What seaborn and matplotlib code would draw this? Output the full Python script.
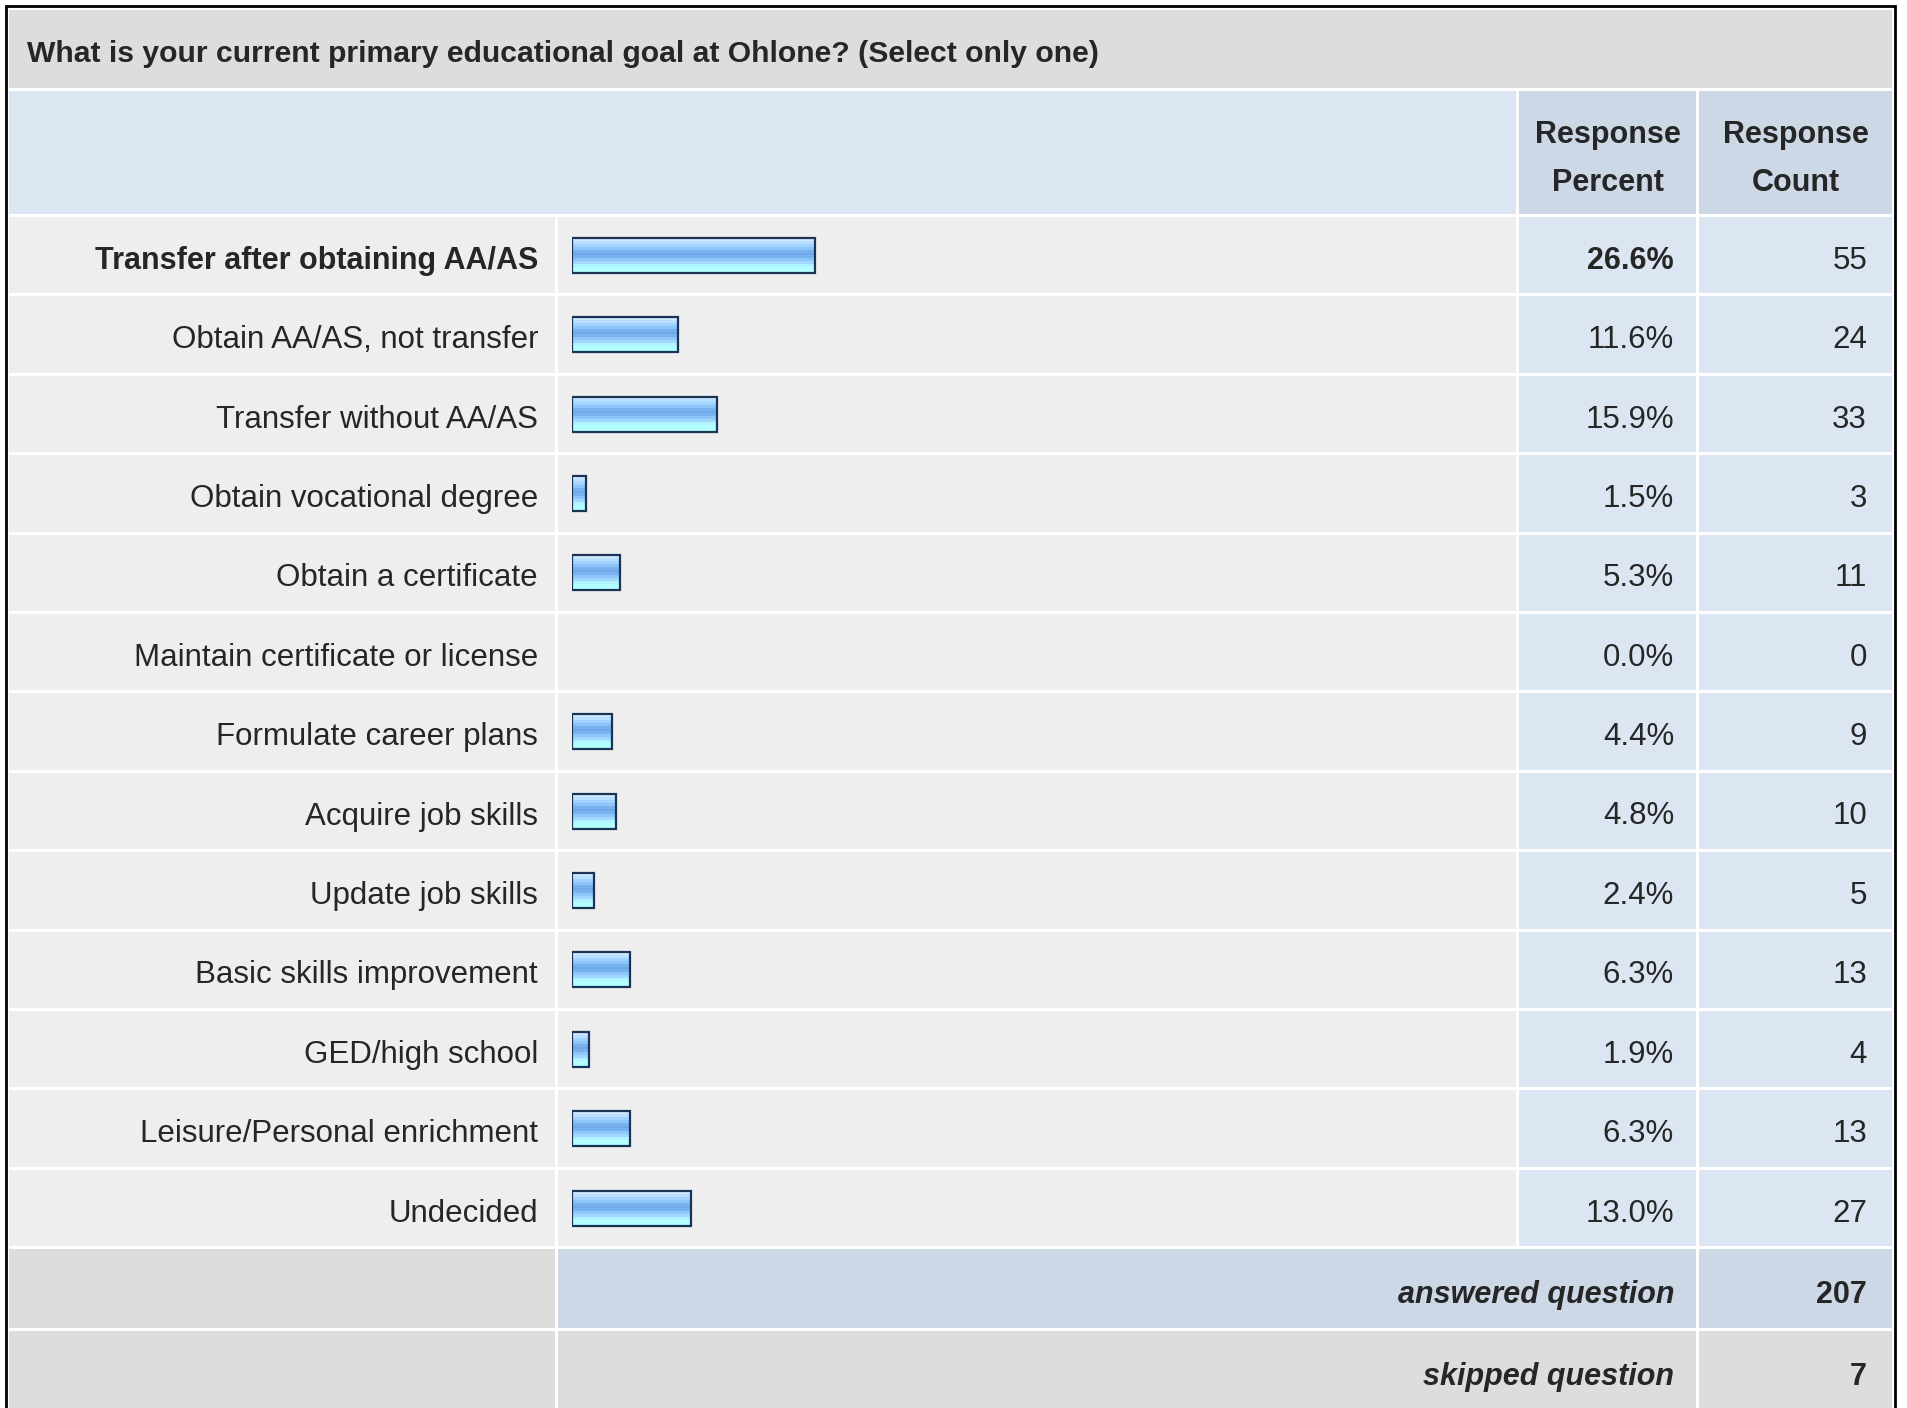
import numpy as np
import pandas as pd
import seaborn as sns
import matplotlib.pyplot as plt
from matplotlib.patches import Rectangle
from matplotlib.colors import to_rgb

# 설문 데이터
question = 'What is your current primary educational goal at Ohlone? (Select only one)'
answers = ['Transfer after obtaining AA/AS', 'Obtain AA/AS, not transfer', 'Transfer without AA/AS',
           'Obtain vocational degree', 'Obtain a certificate', 'Maintain certificate or license',
           'Formulate career plans', 'Acquire job skills', 'Update job skills',
           'Basic skills improvement', 'GED/high school', 'Leisure/Personal enrichment', 'Undecided']
percents = [26.6, 11.6, 15.9, 1.5, 5.3, 0.0, 4.4, 4.8, 2.4, 6.3, 1.9, 6.3, 13.0]
counts = [55, 24, 33, 3, 11, 0, 9, 10, 5, 13, 4, 13, 27]
answered = 207
skipped = 7

df = pd.DataFrame({'answer': answers, 'percent': percents, 'count': counts})

sns.set_theme(style='white')
plt.rcParams['font.family'] = ['Liberation Sans', 'DejaVu Sans']

W, H = 1907, 1408
fig = plt.figure(figsize=(W / 100, H / 100), dpi=100)

# 표 배경 (픽셀 좌표)
bg = fig.add_axes([0, 0, 1, 1])
bg.set_xlim(0, W)
bg.set_ylim(H, 0)
bg.axis('off')

GRAY = '#dddddd'
ROWC = '#eeeeee'
LBLUE = '#dce6f2'
DBLUE = '#ccd8e6'

def cell(x0, x1, y0, y1, c):
    bg.add_patch(Rectangle((x0, y0), x1 - x0, y1 - y0, facecolor=c, edgecolor='none'))

# 바깥 테두리
bg.add_patch(Rectangle((6, 6), 1889, 1410, facecolor='white', edgecolor='black', lw=2))

cols = [(9, 555), (558, 1516), (1519, 1696), (1699, 1892)]
cell(9, 1892, 10, 88, GRAY)
bg.text(27, 54, question, fontsize=21.7, fontweight='bold', ha='left', va='center')

cell(9, 1516, 91, 214, LBLUE)
cell(1519, 1696, 91, 214, DBLUE)
cell(1699, 1892, 91, 214, DBLUE)
for (x0, x1), title in zip(cols[2:], [('Response', 'Percent'), ('Response', 'Count')]):
    bg.text((x0 + x1) / 2, 135, title[0], fontsize=22, fontweight='bold', ha='center', va='center')
    bg.text((x0 + x1) / 2, 183, title[1], fontsize=22, fontweight='bold', ha='center', va='center')

top, pitch = 217, 79.4
best = int(np.argmax(percents))
for i, row in df.iterrows():
    y0 = top + pitch * i
    y1 = y0 + pitch - 3
    yc = (y0 + y1) / 2 + 5.5
    cell(*cols[0], y0, y1, ROWC)
    cell(*cols[1], y0, y1, ROWC)
    cell(*cols[2], y0, y1, LBLUE)
    cell(*cols[3], y0, y1, LBLUE)
    bold = i == best
    fs = 22 if bold else 22.5
    fw = 'bold' if bold else 'normal'
    bg.text(538, yc, row['answer'], fontsize=fs, fontweight=fw, ha='right', va='center')
    bg.text(1674, yc, f"{row['percent']:.1f}%", fontsize=fs, fontweight=fw, ha='right', va='center')
    bg.text(1867, yc, str(row['count']), fontsize=22.5, ha='right', va='center')

# answered / skipped
y0 = top + pitch * len(answers)
cell(9, 555, y0, y0 + 79, GRAY)
cell(558, 1696, y0, y0 + 79, DBLUE)
cell(1699, 1892, y0, y0 + 79, DBLUE)
bg.text(1674, y0 + 45.5, 'answered question', fontsize=22, fontweight='bold', style='italic', ha='right', va='center')
bg.text(1867, y0 + 45.5, str(answered), fontsize=22, fontweight='bold', ha='right', va='center')
y0 += 82
cell(9, 555, y0, H, GRAY)
cell(558, 1696, y0, H, GRAY)
cell(1699, 1892, y0, H, GRAY)
bg.text(1674, y0 + 45.5, 'skipped question', fontsize=22, fontweight='bold', style='italic', ha='right', va='center')
bg.text(1867, y0 + 45.5, str(skipped), fontsize=22, fontweight='bold', ha='right', va='center')

# 막대 그래프
bx0, bw = 572, 915
by0 = top - 1.5
bax = fig.add_axes([bx0 / W, 1 - (by0 + pitch * 13) / H, bw / W, pitch * 13 / H])
bax.patch.set_alpha(0)
sns.barplot(data=df, x='percent', y='answer', orient='h', color='#8ec5f9',
            width=35 / pitch, ax=bax, errorbar=None)

grad_cols = ['#d0e9ff', '#b8dfff', '#a2d2ff', '#8ec5f9', '#78b1ee', '#6fa9ea',
             '#78b2ef', '#8ec6f9', '#a2d8ff', '#b0f4ff', '#b2ffff', '#b2ffff']
grad = np.array([to_rgb(c) for c in grad_cols])[:, None, :]
for p in bax.patches:
    x, y, w, h = p.get_x(), p.get_y(), p.get_width(), p.get_height()
    if w <= 0:
        p.set_visible(False)
        continue
    p.set_facecolor('none')
    p.set_edgecolor('#1b3456')
    p.set_linewidth(1.6)
    p.set_zorder(3)
    im = bax.imshow(grad, extent=[x, x + w, y + h, y], aspect='auto', origin='upper',
                    interpolation='nearest', zorder=2)
    im.set_clip_path(p)

bax.set_xlim(0, 100)
bax.set_ylim(len(answers) - 0.5, -0.5)
bax.axis('off')

plt.savefig('out.png', dpi=100)
